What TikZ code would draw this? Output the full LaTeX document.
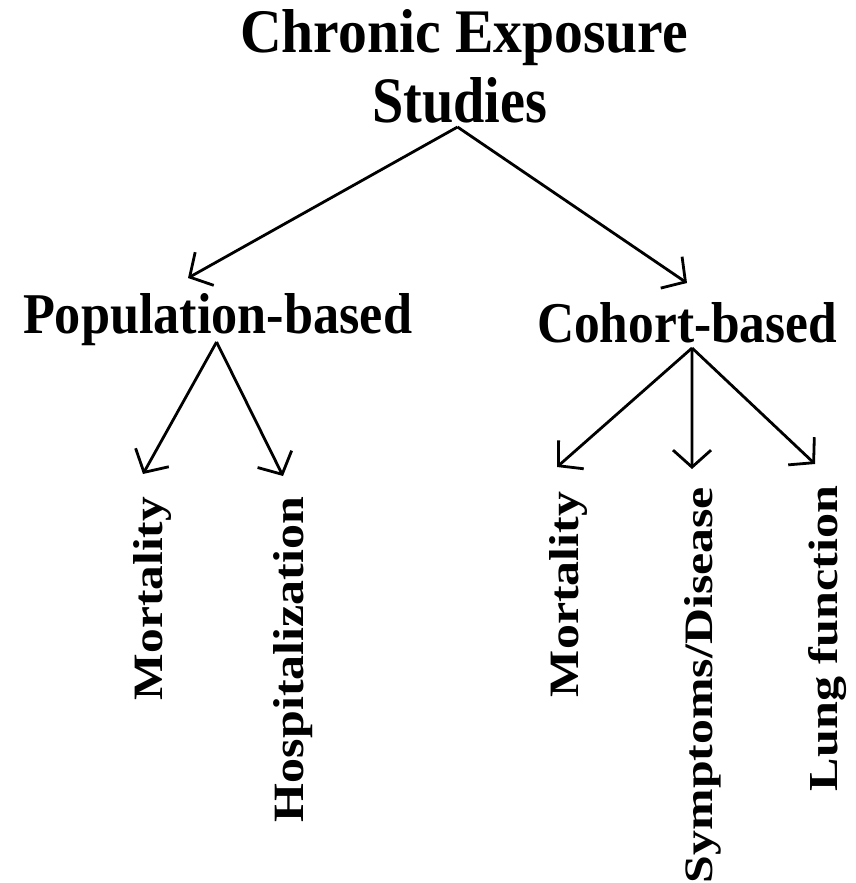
\documentclass[tikz,border=0pt]{standalone}
\usepackage{fontspec}
\setmainfont{Liberation Serif}
\usetikzlibrary{arrows.meta}
\begin{document}
\begin{tikzpicture}[x=1pt,y=-1pt,
  txt/.style={inner sep=0pt,outer sep=0pt,font=\bfseries},
  vtxt/.style={txt,rotate=90,anchor=base west},
  arr/.style={line width=2.8pt,-{Straight Barb[length=17pt,width=38pt,line width=2.8pt]}}]
\useasboundingbox (0,0) rectangle (855,883);
\fill[white] (0,0) rectangle (855,883);
% title
\node[txt,anchor=base west] (t1) at (240,53) {\resizebox{448pt}{43pt}{Chronic Exposure}};
\node[txt,anchor=base west] (t2) at (372,122) {\resizebox{175pt}{45pt}{Studies}};
% second level
\node[txt,anchor=base west] (pop) at (23,333) {\resizebox{389pt}{40pt}{Population-based}};
\node[txt,anchor=base west] (coh) at (537,342) {\resizebox{300pt}{40pt}{Cohort-based}};
% leaves
\node[vtxt] (m1) at (162,700) {\resizebox{203pt}{29pt}{Mortality}};
\node[vtxt] (hosp) at (303,822) {\resizebox{325pt}{30pt}{Hospitalization}};
\node[vtxt] (m2) at (578,697) {\resizebox{205pt}{29pt}{Mortality}};
\node[vtxt] (sym) at (712,883) {\resizebox{396pt}{28pt}{Symptoms/Disease}};
\node[vtxt] (lung) at (837,791) {\resizebox{305pt}{29pt}{Lung function}};
% arrow tips
\coordinate (tp) at (188,278);
\coordinate (tc) at (687,283);
\coordinate (tm1) at (143,474);
\coordinate (th) at (283,476);
\coordinate (tm2) at (557,467);
\coordinate (ts) at (692,469);
\coordinate (tl) at (815,464);
% connectors
\draw[arr] ([xshift=-2pt,yshift=-5pt]t2.base) -- (tp);
\draw[arr] ([xshift=-2pt,yshift=-5pt]t2.base) -- (tc);
\draw[arr] ([xshift=-1pt,yshift=-9pt]pop.base) -- (tm1);
\draw[arr] ([xshift=-1pt,yshift=-9pt]pop.base) -- (th);
\draw[arr] ([xshift=5pt,yshift=-6pt]coh.base) -- (tm2);
\draw[arr] ([xshift=5pt,yshift=-6pt]coh.base) -- (ts);
\draw[arr] ([xshift=5pt,yshift=-6pt]coh.base) -- (tl);
\end{tikzpicture}
\end{document}
